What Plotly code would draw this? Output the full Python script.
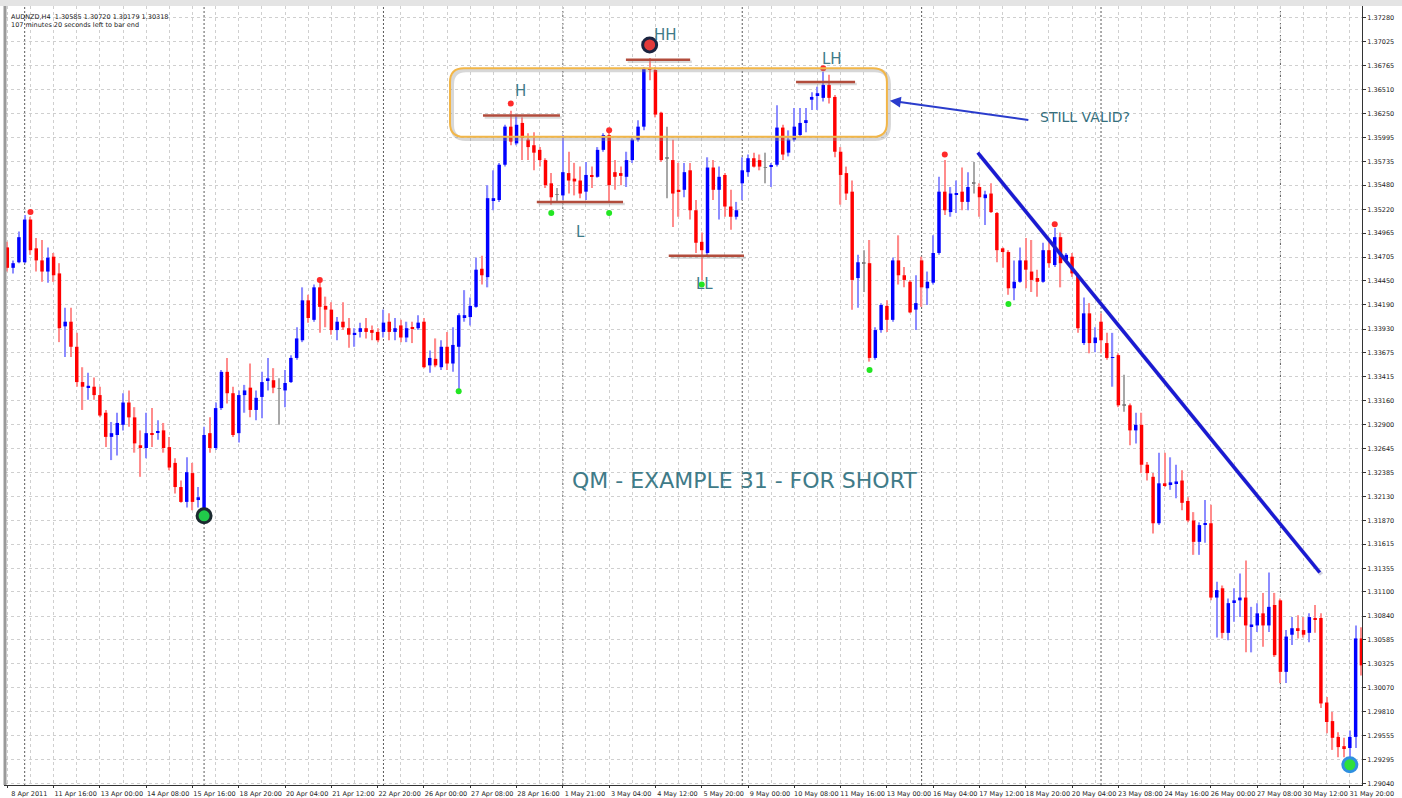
import plotly.graph_objects as go

# ---------------- DATA (AUDNZD, H4) ----------------
opens = [
    1.3481, 1.3459, 1.3465, 1.3465, 1.3511, 1.3480, 1.3467, 1.3455, 1.3471, 1.3453,
    1.3396, 1.3401, 1.3374, 1.3336, 1.3330, 1.3331, 1.3322, 1.3303, 1.3277, 1.3279,
    1.3290, 1.3314, 1.3298, 1.3268, 1.3265, 1.3281, 1.3282, 1.3284, 1.3266, 1.3249,
    1.3223, 1.3207, 1.3238, 1.3209, 1.3193, 1.3281, 1.3265, 1.3308, 1.3347, 1.3324,
    1.3281, 1.3322, 1.3330, 1.3306, 1.3320, 1.3338, 1.3338, 1.3329, 1.3327, 1.3336,
    1.3362, 1.3381, 1.3424, 1.3403, 1.3438, 1.3418, 1.3414, 1.3392, 1.3401, 1.3394,
    1.3387, 1.3390, 1.3394, 1.3392, 1.3390, 1.3390, 1.3401, 1.3390, 1.3397, 1.3384,
    1.3395, 1.3394, 1.3401, 1.3354, 1.3361, 1.3352, 1.3374, 1.3356, 1.3374, 1.3406,
    1.3406, 1.3417, 1.3458, 1.3449, 1.3532, 1.3532, 1.3570, 1.3611, 1.3593, 1.3615,
    1.3597, 1.3591, 1.3586, 1.3575, 1.3550, 1.3538, 1.3537, 1.3561, 1.3555, 1.3553,
    1.3541, 1.3558, 1.3557, 1.3586, 1.3602, 1.3562, 1.3561, 1.3557, 1.3575, 1.3597,
    1.3611, 1.3674, 1.3672, 1.3626, 1.3577, 1.3575, 1.3543, 1.3543, 1.3564, 1.3521,
    1.3487, 1.3475, 1.3567, 1.3543, 1.3559, 1.3525, 1.3514, 1.3550, 1.3562, 1.3577,
    1.3575, 1.3567, 1.3568, 1.3570, 1.3610, 1.3583, 1.3597, 1.3602, 1.3616, 1.3640,
    1.3644, 1.3642, 1.3656, 1.3643, 1.3584, 1.3561, 1.3541, 1.3448, 1.3464, 1.3464,
    1.3362, 1.3392, 1.3418, 1.3403, 1.3467, 1.3451, 1.3444, 1.3414, 1.3467, 1.3437,
    1.3443, 1.3475, 1.3541, 1.3519, 1.3538, 1.3541, 1.3530, 1.3550, 1.3546, 1.3534,
    1.3539, 1.3518, 1.3480, 1.3476, 1.3437, 1.3444, 1.3467, 1.3455, 1.3448, 1.3444,
    1.3478, 1.3462, 1.3492, 1.3467, 1.3471, 1.3451, 1.3378, 1.3410, 1.3378, 1.3401,
    1.3378, 1.3362, 1.3365, 1.3311, 1.3311, 1.3284, 1.3290, 1.3247, 1.3234, 1.3184,
    1.3227, 1.3226, 1.3227, 1.3230, 1.3208, 1.3187, 1.3164, 1.3183, 1.3184, 1.3104,
    1.3114, 1.3066, 1.3099, 1.3101, 1.3104, 1.3073, 1.3074, 1.3087, 1.3074, 1.3096,
    1.3101, 1.3024, 1.3064, 1.3071, 1.3069, 1.3066, 1.3082, 1.3082, 1.2991, 1.2971,
    1.2954, 1.2944, 1.2942, 1.2954, 1.3060,
]
highs = [
    1.3487, 1.3467, 1.3498, 1.3516, 1.3514, 1.3491, 1.3489, 1.3481, 1.3475, 1.3464,
    1.3416, 1.3416, 1.3389, 1.3352, 1.3346, 1.3341, 1.3331, 1.3306, 1.3293, 1.3303,
    1.3324, 1.3327, 1.3309, 1.3284, 1.3303, 1.3308, 1.3295, 1.3292, 1.3277, 1.3254,
    1.3230, 1.3255, 1.3249, 1.3223, 1.3288, 1.3298, 1.3314, 1.3349, 1.3362, 1.3331,
    1.3327, 1.3333, 1.3356, 1.3327, 1.3347, 1.3362, 1.3351, 1.3340, 1.3349, 1.3365,
    1.3395, 1.3438, 1.3430, 1.3441, 1.3444, 1.3428, 1.3422, 1.3406, 1.3422, 1.3405,
    1.3394, 1.3400, 1.3405, 1.3397, 1.3394, 1.3414, 1.3410, 1.3405, 1.3403, 1.3401,
    1.3401, 1.3408, 1.3405, 1.3370, 1.3383, 1.3381, 1.3390, 1.3395, 1.3410, 1.3435,
    1.3427, 1.3470, 1.3472, 1.3548, 1.3564, 1.3572, 1.3613, 1.3628, 1.3624, 1.3621,
    1.3604, 1.3605, 1.3589, 1.3577, 1.3561, 1.3545, 1.3602, 1.3584, 1.3572, 1.3568,
    1.3573, 1.3568, 1.3589, 1.3604, 1.3607, 1.3575, 1.3568, 1.3584, 1.3599, 1.3618,
    1.3675, 1.3685, 1.3675, 1.3627, 1.3611, 1.3597, 1.3572, 1.3572, 1.3572, 1.3532,
    1.3497, 1.3578, 1.3575, 1.3568, 1.3561, 1.3543, 1.3530, 1.3578, 1.3581, 1.3583,
    1.3581, 1.3583, 1.3572, 1.3634, 1.3613, 1.3607, 1.3631, 1.3631, 1.3631, 1.3648,
    1.3654, 1.3670, 1.3667, 1.3645, 1.3589, 1.3568, 1.3553, 1.3473, 1.3478, 1.3489,
    1.3395, 1.3421, 1.3424, 1.3470, 1.3494, 1.3460, 1.3446, 1.3451, 1.3471, 1.3455,
    1.3494, 1.3557, 1.3575, 1.3546, 1.3553, 1.3567, 1.3562, 1.3573, 1.3550, 1.3542,
    1.3550, 1.3519, 1.3481, 1.3478, 1.3467, 1.3481, 1.3491, 1.3489, 1.3457, 1.3486,
    1.3489, 1.3502, 1.3497, 1.3475, 1.3475, 1.3453, 1.3427, 1.3421, 1.3395, 1.3410,
    1.3389, 1.3389, 1.3367, 1.3344, 1.3313, 1.3303, 1.3303, 1.3250, 1.3238, 1.3260,
    1.3260, 1.3255, 1.3247, 1.3241, 1.3212, 1.3196, 1.3185, 1.3209, 1.3204, 1.3121,
    1.3117, 1.3103, 1.3114, 1.3130, 1.3144, 1.3094, 1.3098, 1.3109, 1.3131, 1.3109,
    1.3103, 1.3069, 1.3083, 1.3085, 1.3083, 1.3087, 1.3096, 1.3087, 1.2997, 1.2981,
    1.2959, 1.2953, 1.2961, 1.3074, 1.3072,
]
lows = [
    1.3455, 1.3453, 1.3464, 1.3464, 1.3473, 1.3455, 1.3444, 1.3443, 1.3444, 1.3379,
    1.3363, 1.3363, 1.3331, 1.3306, 1.3317, 1.3317, 1.3298, 1.3266, 1.3252, 1.3257,
    1.3284, 1.3288, 1.3260, 1.3234, 1.3254, 1.3266, 1.3274, 1.3260, 1.3241, 1.3216,
    1.3206, 1.3201, 1.3198, 1.3201, 1.3190, 1.3260, 1.3263, 1.3306, 1.3313, 1.3277,
    1.3271, 1.3303, 1.3298, 1.3295, 1.3297, 1.3327, 1.3324, 1.3290, 1.3309, 1.3335,
    1.3360, 1.3379, 1.3400, 1.3401, 1.3389, 1.3395, 1.3387, 1.3381, 1.3392, 1.3373,
    1.3374, 1.3384, 1.3383, 1.3381, 1.3379, 1.3384, 1.3381, 1.3381, 1.3379, 1.3379,
    1.3378, 1.3392, 1.3351, 1.3346, 1.3352, 1.3349, 1.3349, 1.3347, 1.3327, 1.3401,
    1.3397, 1.3416, 1.3441, 1.3438, 1.3521, 1.3530, 1.3568, 1.3591, 1.3591, 1.3575,
    1.3575, 1.3564, 1.3568, 1.3545, 1.3527, 1.3529, 1.3532, 1.3539, 1.3537, 1.3534,
    1.3532, 1.3545, 1.3556, 1.3584, 1.3529, 1.3543, 1.3548, 1.3546, 1.3572, 1.3595,
    1.3607, 1.3661, 1.3621, 1.3573, 1.3534, 1.3503, 1.3514, 1.3535, 1.3511, 1.3475,
    1.3446, 1.3471, 1.3532, 1.3511, 1.3514, 1.3500, 1.3511, 1.3532, 1.3557, 1.3567,
    1.3564, 1.3550, 1.3546, 1.3568, 1.3575, 1.3579, 1.3595, 1.3600, 1.3605, 1.3629,
    1.3629, 1.3638, 1.3636, 1.3578, 1.3527, 1.3532, 1.3414, 1.3416, 1.3433, 1.3358,
    1.3360, 1.3389, 1.3390, 1.3401, 1.3441, 1.3438, 1.3410, 1.3392, 1.3417, 1.3419,
    1.3441, 1.3473, 1.3516, 1.3514, 1.3518, 1.3521, 1.3521, 1.3539, 1.3514, 1.3505,
    1.3518, 1.3465, 1.3459, 1.3430, 1.3424, 1.3443, 1.3437, 1.3433, 1.3428, 1.3443,
    1.3459, 1.3460, 1.3438, 1.3465, 1.3449, 1.3389, 1.3376, 1.3367, 1.3368, 1.3367,
    1.3360, 1.3331, 1.3309, 1.3304, 1.3268, 1.3270, 1.3238, 1.3230, 1.3173, 1.3182,
    1.3223, 1.3220, 1.3211, 1.3198, 1.3185, 1.3150, 1.3150, 1.3163, 1.3101, 1.3061,
    1.3060, 1.3058, 1.3078, 1.3083, 1.3045, 1.3045, 1.3067, 1.3051, 1.3067, 1.3040,
    1.3012, 1.3012, 1.3053, 1.3060, 1.3061, 1.3056, 1.3066, 1.2985, 1.2958, 1.2940,
    1.2932, 1.2932, 1.2929, 1.2942, 1.3020,
]
closes = [
    1.3459, 1.3464, 1.3492, 1.3511, 1.3478, 1.3467, 1.3455, 1.3470, 1.3451, 1.3394,
    1.3401, 1.3374, 1.3336, 1.3331, 1.3332, 1.3322, 1.3300, 1.3277, 1.3281, 1.3292,
    1.3314, 1.3298, 1.3270, 1.3265, 1.3281, 1.3280, 1.3283, 1.3265, 1.3244, 1.3223,
    1.3207, 1.3239, 1.3207, 1.3212, 1.3279, 1.3265, 1.3308, 1.3347, 1.3324, 1.3279,
    1.3322, 1.3327, 1.3306, 1.3319, 1.3336, 1.3340, 1.3330, 1.3329, 1.3335, 1.3362,
    1.3383, 1.3424, 1.3405, 1.3438, 1.3417, 1.3414, 1.3392, 1.3401, 1.3395, 1.3387,
    1.3389, 1.3394, 1.3390, 1.3389, 1.3381, 1.3400, 1.3390, 1.3394, 1.3384, 1.3394,
    1.3394, 1.3400, 1.3352, 1.3362, 1.3354, 1.3374, 1.3356, 1.3376, 1.3408, 1.3408,
    1.3418, 1.3457, 1.3451, 1.3534, 1.3534, 1.3570, 1.3611, 1.3595, 1.3613, 1.3599,
    1.3589, 1.3583, 1.3575, 1.3548, 1.3535, 1.3538, 1.3562, 1.3553, 1.3552, 1.3539,
    1.3559, 1.3557, 1.3586, 1.3602, 1.3548, 1.3557, 1.3558, 1.3575, 1.3597, 1.3611,
    1.3674, 1.3672, 1.3624, 1.3575, 1.3577, 1.3539, 1.3541, 1.3562, 1.3521, 1.3486,
    1.3478, 1.3567, 1.3543, 1.3557, 1.3525, 1.3514, 1.3521, 1.3564, 1.3577, 1.3568,
    1.3568, 1.3567, 1.3569, 1.3610, 1.3581, 1.3597, 1.3611, 1.3615, 1.3618, 1.3643,
    1.3647, 1.3656, 1.3642, 1.3584, 1.3559, 1.3539, 1.3446, 1.3465, 1.3464, 1.3362,
    1.3392, 1.3419, 1.3403, 1.3467, 1.3451, 1.3446, 1.3411, 1.3421, 1.3438, 1.3444,
    1.3475, 1.3541, 1.3521, 1.3539, 1.3539, 1.3530, 1.3546, 1.3550, 1.3535, 1.3538,
    1.3519, 1.3478, 1.3476, 1.3437, 1.3444, 1.3467, 1.3457, 1.3446, 1.3444, 1.3478,
    1.3464, 1.3492, 1.3464, 1.3473, 1.3453, 1.3394, 1.3410, 1.3378, 1.3384, 1.3381,
    1.3362, 1.3363, 1.3311, 1.3311, 1.3284, 1.3290, 1.3247, 1.3238, 1.3184, 1.3227,
    1.3225, 1.3228, 1.3229, 1.3206, 1.3187, 1.3164, 1.3182, 1.3184, 1.3104, 1.3112,
    1.3066, 1.3098, 1.3101, 1.3104, 1.3074, 1.3075, 1.3087, 1.3074, 1.3094, 1.3042,
    1.3024, 1.3062, 1.3071, 1.3069, 1.3064, 1.3083, 1.3080, 1.2990, 1.2970, 1.2953,
    1.2943, 1.2942, 1.2954, 1.3060, 1.3031,
]

# time-axis labels (one every 8 H4 bars)
time_labels = [
    "8 Apr 2011", "11 Apr 16:00", "13 Apr 00:00", "14 Apr 08:00", "15 Apr 16:00",
    "18 Apr 20:00", "20 Apr 04:00", "21 Apr 12:00", "22 Apr 20:00", "26 Apr 00:00",
    "27 Apr 08:00", "28 Apr 16:00", "1 May 21:00", "3 May 04:00", "4 May 12:00",
    "5 May 20:00", "9 May 00:00", "10 May 08:00", "11 May 16:00", "13 May 00:00",
    "16 May 04:00", "17 May 12:00", "18 May 20:00", "20 May 04:00", "23 May 08:00",
    "24 May 16:00", "26 May 00:00", "27 May 08:00", "30 May 12:00", "31 May 20:00",
]
# price-axis labels
price_ticks = [
    1.37280, 1.37025, 1.36765, 1.36510, 1.36250, 1.35995, 1.35735, 1.35480, 1.35220,
    1.34965, 1.34705, 1.34450, 1.34190, 1.33930, 1.33675, 1.33415, 1.33160, 1.32900,
    1.32645, 1.32385, 1.32130, 1.31870, 1.31615, 1.31355, 1.31100, 1.30840, 1.30585,
    1.30325, 1.30070, 1.29810, 1.29555, 1.29295, 1.29040,
]
# first bar of each trading week (period separators)
week_start_bars = [3, 34, 65, 96, 127, 158, 189, 220]

# fractal markers
fractal_up_bars = [4, 54, 87, 104, 141, 162, 181]
fractal_up_prices = [1.3519, 1.3446, 1.3636, 1.3607, 1.3674, 1.3581, 1.3506]
fractal_dn_bars = [78, 94, 104, 120, 149, 173]
fractal_dn_prices = [1.3326, 1.3518, 1.3518, 1.3441, 1.3349, 1.3420]

# swing point circles
swing_bars = [34, 111, 232]
swing_prices = [1.3192, 1.3699, 1.2924]

header = "AUDNZD,H4  1.30585 1.30720 1.30179 1.30318<br>107 minutes 20 seconds left to bar end"

# ---------------- DRAWING ----------------
BULL, BEAR, DOJI = "#0000ff", "#ff0000", "#808080"
WBULL, WBEAR, WDOJI = "#8c8cff", "#ff8c8c", "#a8a8a8"

n = len(opens)
idx = list(range(n))
body_col, wick_col, body_base, body_len = [], [], [], []
MIN_BODY = 0.00009
for o, c in zip(opens, closes):
    if c > o:
        body_col.append(BULL); wick_col.append(WBULL)
    elif c < o:
        body_col.append(BEAR); wick_col.append(WBEAR)
    else:
        body_col.append(DOJI); wick_col.append(WDOJI)
    d = abs(c - o)
    if d < MIN_BODY:
        body_base.append(min(o, c) - (MIN_BODY - d) / 2)
        body_len.append(MIN_BODY)
    else:
        body_base.append(min(o, c))
        body_len.append(d)

fig = go.Figure()
fig.add_trace(go.Bar(x=idx, base=lows, y=[h - l for h, l in zip(highs, lows)],
                     width=0.22, marker=dict(color=wick_col, line=dict(width=0)),
                     hoverinfo="skip"))
fig.add_trace(go.Bar(x=idx, base=body_base, y=body_len, width=0.6,
                     marker=dict(color=body_col, line=dict(width=0)),
                     hoverinfo="skip"))

fig.add_trace(go.Scatter(x=fractal_up_bars, y=fractal_up_prices, mode="markers",
                         marker=dict(size=6, color="#ff2a2a"), hoverinfo="skip"))
fig.add_trace(go.Scatter(x=fractal_dn_bars, y=fractal_dn_prices, mode="markers",
                         marker=dict(size=6, color="#22e622"), hoverinfo="skip"))
fig.add_trace(go.Scatter(x=swing_bars, y=swing_prices, mode="markers",
                         marker=dict(size=14, color=["#21c94a", "#e23a3a", "#2ee03a"],
                                     line=dict(width=3, color=["#1c2a30", "#1a2440", "#2f8fe0"])),
                         hoverinfo="skip"))

shapes = []
# week separators
for b in week_start_bars:
    shapes.append(dict(type="line", xref="x", yref="paper", x0=b, x1=b, y0=0, y1=1,
                       line=dict(color="#5a5a5a", width=1, dash="2px,2px"), layer="below"))

# rounded box around the top zone
BX0, BX1, BY0, BY1 = 76.5, 152.0, 1.3600, 1.3674
RX, RY = 2.4, 0.0015


def rounded_path(x0, x1, y0, y1, rx, ry):
    return (f"M {x0+rx},{y1} L {x1-rx},{y1} Q {x1},{y1} {x1},{y1-ry} "
            f"L {x1},{y0+ry} Q {x1},{y0} {x1-rx},{y0} L {x0+rx},{y0} "
            f"Q {x0},{y0} {x0},{y0+ry} L {x0},{y1-ry} Q {x0},{y1} {x0+rx},{y1} Z")


shapes.append(dict(type="path", xref="x", yref="y",
                   path=rounded_path(BX0 + 0.35, BX1 + 0.35, BY0 - 0.00022, BY1 - 0.00022, RX, RY),
                   line=dict(color="rgba(140,140,140,0.35)", width=4)))
shapes.append(dict(type="path", xref="x", yref="y",
                   path=rounded_path(BX0, BX1, BY0, BY1, RX, RY),
                   line=dict(color="#f2b648", width=2)))

# horizontal swing levels
levels = [(82.2, 95.5, 1.3623), (91.5, 106.4, 1.3530), (106.9, 118.0, 1.3683),
          (114.3, 127.3, 1.3472), (136.3, 146.5, 1.3659)]
for x0, x1, yv in levels:
    shapes.append(dict(type="line", xref="x", yref="y", x0=x0 + 0.3, x1=x1 + 0.3,
                       y0=yv - 0.00022, y1=yv - 0.00022,
                       line=dict(color="rgba(150,150,150,0.35)", width=2.5)))
    shapes.append(dict(type="line", xref="x", yref="y", x0=x0, x1=x1, y0=yv, y1=yv,
                       line=dict(color="#b24c3c", width=2.5)))

# descending trend line
TX0, TY0, TX1, TY1 = 167.7, 1.3583, 226.8, 1.3131
shapes.append(dict(type="line", xref="x", yref="y", x0=TX0 + 0.3, y0=TY0 - 0.00022,
                   x1=TX1 + 0.3, y1=TY1 - 0.00022,
                   line=dict(color="rgba(120,120,160,0.35)", width=4)))
shapes.append(dict(type="line", xref="x", yref="y", x0=TX0, y0=TY0, x1=TX1, y1=TY1,
                   line=dict(color="#1a1ad2", width=3.5)))

# window frame bits
shapes.append(dict(type="rect", xref="paper", yref="paper", x0=-0.01, x1=1.04,
                   y0=1.0, y1=1.0 + 6 / 779, fillcolor="#e4e4e4", line=dict(width=0)))
shapes.append(dict(type="line", xref="paper", yref="paper", x0=0, x1=0, y0=0, y1=1,
                   line=dict(color="#9a9a9a", width=3)))

LABEL_COL = "#3f7b88"
annotations = [
    dict(xref="paper", yref="paper", x=0.003, y=0.9936, xanchor="left", yanchor="top",
         text=header, showarrow=False, align="left",
         font=dict(family="DejaVu Sans", size=6.5, color="#222222")),
    dict(xref="paper", yref="paper", x=0.5453, y=0.3915, text="QM - EXAMPLE 31 - FOR SHORT",
         showarrow=False, font=dict(family="DejaVu Sans", size=22, color=LABEL_COL)),
    dict(xref="x", yref="y", x=178.1, y=1.3621, xanchor="left", text="STILL VALID?",
         showarrow=False, font=dict(family="DejaVu Sans", size=14, color="#356f7d")),
    dict(xref="x", yref="y", x=152.5, y=1.3639, ax=176.7, ay=1.3618, axref="x", ayref="y",
         text="", showarrow=True, arrowhead=2, arrowsize=1.1, arrowwidth=2,
         arrowcolor="#2a3ccc"),
]
pattern_labels = ["H", "HH", "L", "LL", "LH"]
pattern_x = [88.6, 113.8, 99.0, 120.4, 142.5]
pattern_y = [1.3649, 1.3710, 1.3498, 1.3442, 1.3684]
for t, x, y in zip(pattern_labels, pattern_x, pattern_y):
    annotations.append(dict(xref="x", yref="y", x=x, y=y, text=t, showarrow=False,
                            font=dict(family="DejaVu Sans", size=15, color=LABEL_COL)))

GRID = "#cfcfcf"
fig.update_layout(
    width=1402, height=798,
    margin=dict(l=5, r=40, t=6, b=13, autoexpand=False),
    paper_bgcolor="white", plot_bgcolor="white",
    barmode="overlay", showlegend=False,
    font=dict(family="DejaVu Sans", size=7, color="#222222"),
    xaxis=dict(range=[-0.4, 234.1], tickmode="array",
               tickvals=list(range(0, 8 * len(time_labels), 8)), ticktext=time_labels,
               tickangle=0,
               ticks="outside", ticklen=2, tickcolor="#333333",
               tickfont=dict(family="DejaVu Sans", size=6.5, color="#222222"),
               ticklabelshift=22,
               showgrid=True, gridcolor=GRID, griddash="dot", gridwidth=1,
               minor=dict(tickmode="linear", tick0=0, dtick=4, showgrid=True,
                          gridcolor=GRID, griddash="dot", gridwidth=1),
               showline=True, linecolor="#333333", linewidth=1, mirror=True,
               zeroline=False, fixedrange=True),
    yaxis=dict(side="right", range=[1.29022, 1.37409], tickmode="array",
               tickvals=price_ticks, ticktext=[f"{v:.5f}" for v in price_ticks],
               ticks="outside", ticklen=3, tickcolor="#333333",
               tickfont=dict(family="DejaVu Sans", size=6.5, color="#222222"),
               showgrid=True, gridcolor=GRID, griddash="dot", gridwidth=1,
               showline=True, linecolor="#333333", linewidth=1, mirror=True,
               zeroline=False, fixedrange=True),
    shapes=shapes,
    annotations=annotations,
)

fig.write_html(
    "out.html",
    config={"displayModeBar": False},
    post_script="document.body.style.margin='0px';document.body.style.padding='0px';"
                "document.body.style.overflow='hidden';",
)
